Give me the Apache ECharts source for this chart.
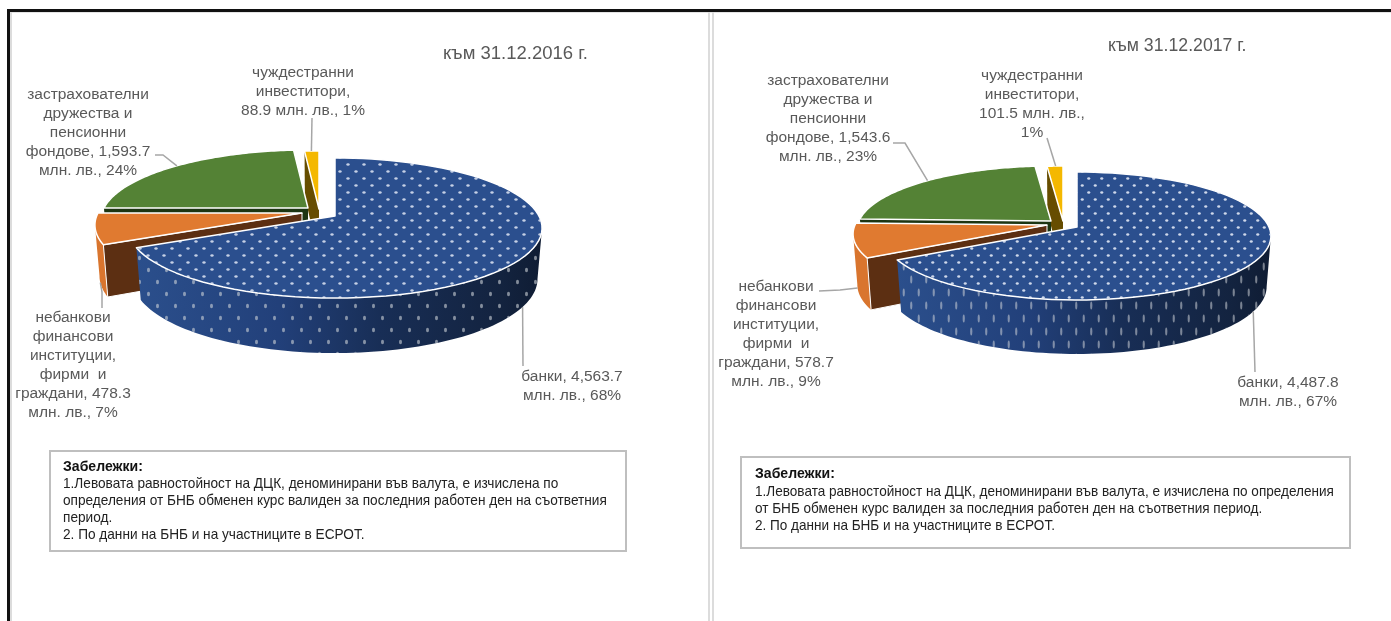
<!DOCTYPE html>
<html><head><meta charset="utf-8">
<style>html,body{margin:0;padding:0;background:#fff}#c{width:1391px;height:621px}</style>
<script src="https://cdn.jsdelivr.net/npm/echarts@6/dist/echarts.min.js"></script>
</head><body><div id="c"></div>
<script>
// ---------- data ----------
const titles = ['към 31.12.2016 г.', 'към 31.12.2017 г.'];
const categories = ['банки', 'небанкови финансови институции, фирми и граждани', 'застрахователни дружества и пенсионни фондове', 'чуждестранни инвеститори'];
const values2016 = [4563.7, 478.3, 1593.7, 88.9];
const values2017 = [4487.8, 578.7, 1543.6, 101.5];
const percent2016 = [68, 7, 24, 1];
const percent2017 = [67, 9, 23, 1];
// label line breaks: {v} = value, {p} = percent
const labels2016 = ['банки, {v}\nмлн. лв., {p}%', 'небанкови\nфинансови\nинституции,\nфирми  и\nграждани, {v}\nмлн. лв., {p}%', 'застрахователни\nдружества и\nпенсионни\nфондове, {v}\nмлн. лв., {p}%', 'чуждестранни\nинвеститори,\n{v} млн. лв., {p}%'];
const labels2017 = ['банки, {v}\nмлн. лв., {p}%', 'небанкови\nфинансови\nинституции,\nфирми  и\nграждани, {v}\nмлн. лв., {p}%', 'застрахователни\nдружества и\nпенсионни\nфондове, {v}\nмлн. лв., {p}%', 'чуждестранни\nинвеститори,\n{v} млн. лв.,\n{p}%'];
const notesHead = 'Забележки:';
const notes2016 = '1.Левовата равностойност на ДЦК, деноминирани във валута, е изчислена по\nопределения от БНБ обменен курс валиден за последния работен ден на съответния\nпериод.\n2. По данни на БНБ и на участниците в ЕСРОТ.';
const notes2017 = '1.Левовата равностойност на ДЦК, деноминирани във валута, е изчислена по определения\nот БНБ обменен курс валиден за последния работен ден на съответния период.\n2. По данни на БНБ и на участниците в ЕСРОТ.';

// ---------- styles and layout ----------
const topColors = ['#2b4f8e', '#e07a30', '#548235', '#f4b800'];
const faceColors = ['#1a3160', '#5c2f12', '#1c3512', '#664d00'];
const wallColors = [null, '#d9752e', '#3a5c25', '#a88000'];
const gray = '#595959';
const FONT = '"Liberation Sans", Arial, sans-serif';

function tile(w, h, rx, ry, color) {
  const c = document.createElement('canvas');
  c.width = w; c.height = h;
  const g = c.getContext('2d');
  g.fillStyle = color;
  [[w / 4, h / 4], [3 * w / 4, 3 * h / 4]].forEach(p => {
    g.beginPath(); g.ellipse(p[0], p[1], rx, ry, 0, 0, 2 * Math.PI); g.fill();
  });
  return { image: c, repeat: 'repeat' };
}

const layouts = [{
  A: 204, B: 68, k: 0.1715, hBase: 50, hTilt: 5, squeeze: 0.978,
  apex: [[335, 216], [302, 213], [308, 208], [319, 209]],
  anchorTheta: [121, 255, 314, 357.5], anchorWall: [true, true, false, false],
  labelPos: [[572, 367.5], [73, 308.5], [88, 85], [303, 63.5]],
  leaders: [[[523, 366]], [[102, 308], [102, 292]], [[155, 155], [163, 155]], [[312, 118]]],
  topDots: tile(16, 14, 1.7, 1.2, 'rgba(235,240,250,0.8)'),
  wallDots: tile(18, 24, 1.5, 2.2, 'rgba(205,210,215,0.6)')
}, {
  A: 192, B: 62.7, k: 0.1407, hBase: 50, hTilt: 4, squeeze: 0.978,
  apex: [[1077, 227], [1047, 225], [1051, 221], [1063, 221]],
  anchorTheta: [119, 259, 315, 357.5], anchorWall: [true, true, false, false],
  labelPos: [[1288, 373.5], [776, 277.5], [828, 71.5], [1032, 66.5]],
  leaders: [[[1255, 372]], [[819, 291], [840, 290]], [[893, 143], [905, 143]], [[1047, 138]]],
  topDots: tile(13, 14, 1.6, 1.3, 'rgba(235,240,250,0.85)'),
  wallDots: tile(15, 26, 1.1, 4, 'rgba(205,210,215,0.55)')
}];

// ---------- drawing ----------
function makeRender(layout, values, percents, templates) {
  const total = values.reduce((a, b) => a + b, 0);
  const rim = (theta) => {
    const t = theta * Math.PI / 180, u = Math.sin(t), v = Math.cos(t), w = 1 + layout.k * v;
    return { x: layout.A * u / w, y: -layout.B * v / w, v };
  };
  const top = (a, th) => { const r = rim(th); return [a[0] + r.x, a[1] + r.y]; };
  const low = (a, th) => {
    const r = rim(th);
    return [a[0] + r.x * layout.squeeze, a[1] + r.y + layout.hBase - layout.hTilt * r.v];
  };
  // angles where the projected rim reaches its right and left extremes
  const silhouetteRight = Math.acos(-layout.k) * 180 / Math.PI;
  const silhouetteLeft = 360 - silhouetteRight;
  const sweep = (from, to) => {
    const out = [];
    for (let n = 0; n <= 80; n++) out.push(from + (to - from) * n / 80);
    return out;
  };
  return function (params, api) {
    const i = params.dataIndex;
    let before = 0;
    for (let j = 0; j < i; j++) before += values[j];
    const start = before / total * 360;
    const end = start + api.value(0) / total * 360;
    const a = layout.apex[i];
    const z = 10 * (4 - i);
    const kids = [];
    // outer wall: only the part facing the viewer
    const wallFrom = Math.max(start, silhouetteRight), wallTo = Math.min(end, silhouetteLeft);
    if (wallTo > wallFrom) {
      const th = sweep(wallFrom, wallTo);
      const pts = th.map(t => top(a, t)).concat(th.map(t => low(a, t)).reverse());
      const wallFill = i === 0
        ? new echarts.graphic.LinearGradient(0, 0, 1, 0, [
            { offset: 0, color: '#2b4f8c' }, { offset: 0.35, color: '#22407a' },
            { offset: 0.6, color: '#182e56' }, { offset: 0.9, color: '#13233f' }, { offset: 1, color: '#0f1c33' }])
        : wallColors[i];
      kids.push({ type: 'polygon', z2: z, shape: { points: pts }, style: { fill: wallFill } });
      if (i === 0) kids.push({ type: 'polygon', z2: z + 1, shape: { points: pts }, style: { fill: layout.wallDots } });
    }
    // cut face at the start angle
    const s0 = top(a, start), s1 = low(a, start);
    const apexLow = [a[0], a[1] + layout.hBase];
    kids.push({ type: 'polygon', z2: z + 2, shape: { points: [a, s0, s1, apexLow] }, style: { fill: faceColors[i], stroke: i === 1 ? '#fff' : 'none', lineWidth: 1 } });
    // top face
    const topPts = [a].concat(sweep(start, end).map(t => top(a, t)));
    kids.push({ type: 'polygon', z2: z + 3, shape: { points: topPts }, style: { fill: topColors[i], stroke: '#fff', lineWidth: 1.5, lineJoin: 'round' } });
    if (i === 0) kids.push({ type: 'polygon', z2: z + 4, shape: { points: topPts }, style: { fill: layout.topDots } });
    // leader line and label
    const anchor = layout.anchorWall[i] ? low(a, layout.anchorTheta[i]) : top(a, layout.anchorTheta[i]);
    kids.push({ type: 'polyline', z2: 60, shape: { points: layout.leaders[i].concat([anchor]) }, style: { fill: 'none', stroke: '#a6a6a6', lineWidth: 1.5 } });
    const valueText = api.value(0).toLocaleString('en-US', { minimumFractionDigits: 1, maximumFractionDigits: 1 });
    kids.push({
      type: 'text', z2: 70,
      style: {
        text: templates[i].replace('{v}', valueText).replace('{p}', percents[i]),
        x: layout.labelPos[i][0], y: layout.labelPos[i][1],
        align: 'center', verticalAlign: 'top', lineHeight: 19,
        font: '15.5px ' + FONT, fill: gray
      }
    });
    return { type: 'group', children: kids };
  };
}

function series(name, layout, values, percents, templates) {
  return {
    type: 'custom', name, coordinateSystem: 'none', silent: true,
    data: values.map((v, i) => ({ name: categories[i], value: [v] })),
    renderItem: makeRender(layout, values, percents, templates)
  };
}

const rect = (x, y, w, h, fill) => ({ type: 'rect', silent: true, z: -1, shape: { x, y, width: w, height: h }, style: { fill } });
const box = (x, y, w, h) => ({ type: 'rect', silent: true, shape: { x, y, width: w, height: h }, style: { fill: '#fff', stroke: '#bfbfbf', lineWidth: 2 }, z: 1 });
const noteHead = (x, y) => ({ type: 'text', silent: true, z: 2, x, y, scaleX: 0.97, style: { text: notesHead, font: 'bold 14.5px ' + FONT, fill: '#111', verticalAlign: 'middle' } });
const noteBody = (x, y, text, sx) => ({ type: 'text', silent: true, z: 2, x, y, scaleX: sx, style: { text, font: '14.5px ' + FONT, fill: '#222', lineHeight: 17, verticalAlign: 'top' } });

const option = {
  backgroundColor: '#fff',
  animation: false,
  title: [
    { text: titles[0], left: 438, top: 39.5, textStyle: { fontFamily: FONT, fontSize: 18.5, fontWeight: 'normal', color: gray } },
    { text: titles[1], left: 1103, top: 32, textStyle: { fontFamily: FONT, fontSize: 17.7, fontWeight: 'normal', color: gray } }
  ],
  graphic: { elements: [
    rect(7, 9, 1384, 3, '#111'),
    rect(7, 9, 3, 612, '#111'),
    rect(10, 12, 2, 609, '#dcdcdc'),
    rect(12, 12, 1379, 1, '#e4e4e4'),
    rect(708, 12, 2, 609, '#dcdcdc'),
    rect(712, 12, 2, 609, '#dcdcdc'),
    box(50, 451, 576, 100),
    box(741, 457, 609, 91),
    noteHead(63, 467),
    noteBody(63, 475, notes2016, 0.94),
    noteHead(755, 474),
    noteBody(755, 483, notes2017, 0.935)
  ] },
  series: [
    series(titles[0], layouts[0], values2016, percent2016, labels2016),
    series(titles[1], layouts[1], values2017, percent2017, labels2017)
  ]
};
const chart = echarts.init(document.getElementById('c'), null, { renderer: 'canvas', width: 1391, height: 621 });
chart.setOption(option);
</script></body></html>
